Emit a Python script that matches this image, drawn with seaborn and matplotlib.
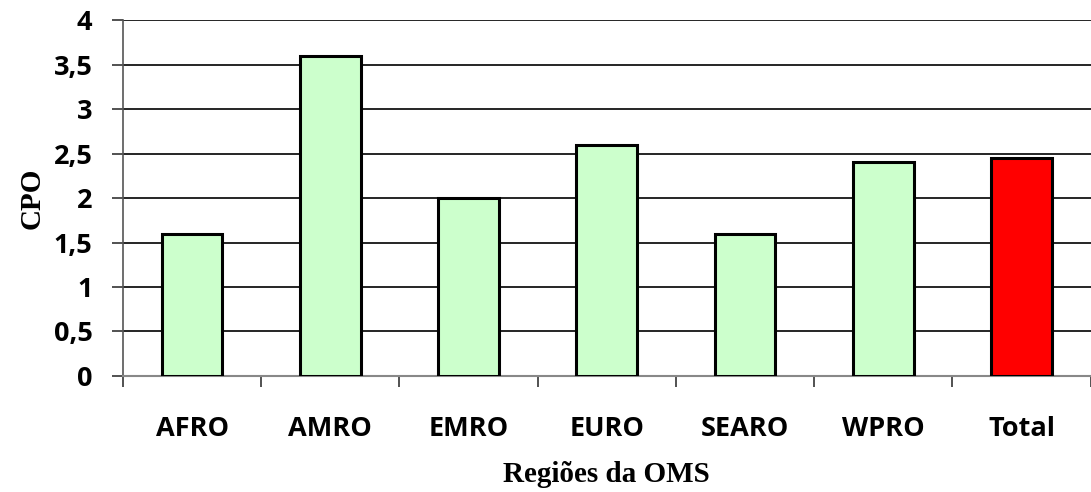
import matplotlib
matplotlib.use("Agg")
import matplotlib.pyplot as plt
import seaborn as sns
import pandas as pd
from matplotlib.ticker import MultipleLocator, FixedLocator, FuncFormatter

# --- dados ---
regioes = ['AFRO', 'AMRO', 'EMRO', 'EURO', 'SEARO', 'WPRO', 'Total']
cpo = [1.6, 3.6, 2.0, 2.6, 1.6, 2.4, 2.45]
cores = ['#CCFFCC', '#CCFFCC', '#CCFFCC', '#CCFFCC', '#CCFFCC', '#CCFFCC', '#FF0000']

df = pd.DataFrame({'regiao': regioes, 'cpo': cpo})

sns.set_style("white")
plt.rcParams['font.family'] = ['Open Sans', 'DejaVu Sans']
plt.rcParams['text.color'] = 'black'
plt.rcParams['xtick.color'] = 'black'
plt.rcParams['ytick.color'] = 'black'
plt.rcParams['axes.labelcolor'] = 'black'

fig = plt.figure(figsize=(10.91, 4.92), dpi=100)
ax = fig.add_axes([0.1127, 0.2358, 0.887, 0.7235])

sns.barplot(data=df, x='regiao', y='cpo', hue='regiao', palette=cores,
            legend=False, width=0.44, edgecolor='black', linewidth=2.2,
            saturation=1, ax=ax, zorder=3)

ax.set_ylim(0, 4)
ax.set_xlim(-0.5, len(regioes) - 0.5)
ax.yaxis.set_major_locator(MultipleLocator(0.5))
ax.yaxis.set_major_formatter(FuncFormatter(lambda v, p: f'{v:g}'.replace('.', ',')))
ax.grid(axis='y', color='black', linewidth=1.2, zorder=0)
ax.set_axisbelow(True)
ax.yaxis.get_gridlines()[-1].set_color('#eeeeee')

for s in ['top', 'right']:
    ax.spines[s].set_visible(False)
ax.spines['left'].set_color('#555555')
ax.spines['bottom'].set_color('#888888')
ax.spines['left'].set_linewidth(1.2)
ax.spines['bottom'].set_linewidth(1.5)

# marcas entre as categorias
ax.xaxis.set_minor_locator(FixedLocator([i - 0.5 for i in range(len(regioes) + 1)]))
ax.tick_params(axis='x', which='minor', length=8, width=1.2, color='#333333', direction='out', bottom=True)
ax.tick_params(axis='x', which='major', length=0, pad=28.5, labelsize=19.5)
ax.tick_params(axis='y', which='major', length=8, width=1.2, color='#333333', direction='out', left=True, labelsize=19.5, pad=14)
for lbl in ax.get_xticklabels() + ax.get_yticklabels():
    lbl.set_fontweight('bold')

ax.set_xlabel('Regiões da OMS', fontsize=21, fontweight='bold', family='Liberation Serif', labelpad=14)
ax.set_ylabel('CPO', fontsize=21, fontweight='bold', family='Liberation Serif', labelpad=6)

fig.savefig('out.png', dpi=100)
